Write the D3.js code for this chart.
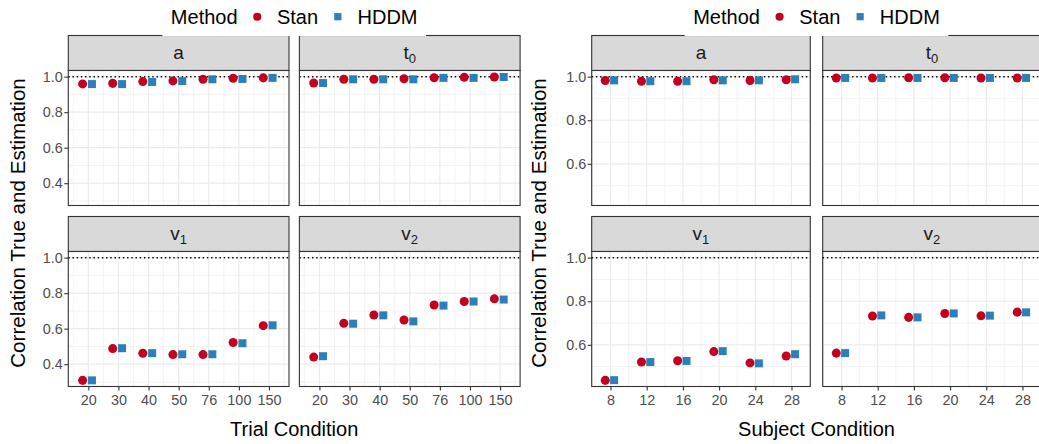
<!DOCTYPE html>
<html>
<head>
<meta charset="utf-8">
<script src="https://cdn.jsdelivr.net/npm/d3@7"></script>
<style>
  body { margin: 0; background: #fff; }
  svg { display: block; font-family: "Liberation Sans", Arial, sans-serif; }
</style>
</head>
<body>
<svg id="chart" width="1039" height="444"></svg>
<script>
// conditions on the x axes
const trialLevels = ["20", "30", "40", "50", "76", "100", "150"];
const subjectLevels = ["8", "12", "16", "20", "24", "28"];

const methods = ["Stan", "HDDM"];
const methodColors = ["#C4001F", "#2B80B9"];
const params = ["a", "t0", "v1", "v2"];
const refLine = 1.0;

// correlations by trial condition
const trialStanA  = [0.959, 0.962, 0.972, 0.976, 0.985, 0.991, 0.993];
const trialHddmA  = [0.958, 0.958, 0.970, 0.975, 0.985, 0.987, 0.993];
const trialStanT0 = [0.964, 0.985, 0.985, 0.988, 0.994, 0.996, 0.998];
const trialHddmT0 = [0.964, 0.985, 0.985, 0.985, 0.993, 0.993, 0.998];
const trialStanV1 = [0.309, 0.488, 0.462, 0.454, 0.454, 0.522, 0.617];
const trialHddmV1 = [0.309, 0.490, 0.462, 0.456, 0.456, 0.518, 0.619];
const trialStanV2 = [0.440, 0.630, 0.677, 0.649, 0.733, 0.753, 0.768];
const trialHddmV2 = [0.445, 0.628, 0.675, 0.641, 0.730, 0.753, 0.764];

// correlations by subject condition
const subjStanA  = [0.982, 0.979, 0.979, 0.986, 0.982, 0.986];
const subjHddmA  = [0.983, 0.979, 0.979, 0.983, 0.983, 0.988];
const subjStanT0 = [0.994, 0.994, 0.995, 0.995, 0.994, 0.994];
const subjHddmT0 = [0.994, 0.994, 0.994, 0.994, 0.994, 0.994];
const subjStanV1 = [0.437, 0.521, 0.527, 0.569, 0.517, 0.549];
const subjHddmV1 = [0.438, 0.521, 0.526, 0.571, 0.515, 0.557];
const subjStanV2 = [0.562, 0.732, 0.726, 0.744, 0.733, 0.750];
const subjHddmV2 = [0.562, 0.735, 0.726, 0.744, 0.734, 0.749];

const yTickValues = [0.2, 0.4, 0.6, 0.8, 1.0];

const svg = d3.select("#chart");

const stripTop = 35.5, stripH = 35, panelH = 135, rowGap = 11;
const gridColor = "#EBEBEB", lineColor = "#333333";

function symbolPath(i, size) {
  return d3.symbol().type(i === 0 ? d3.symbolCircle : d3.symbolSquare).size(size)();
}

function stripText(g, p, cx, cy) {
  const t = g.append("text")
    .attr("x", cx).attr("y", cy)
    .attr("text-anchor", "middle")
    .attr("font-size", "19px")
    .attr("fill", "#1A1A1A");
  t.append("tspan").text(p[0]);
  if (p.length > 1) {
    t.append("tspan").attr("dy", 4).attr("font-size", "13px").text(p.slice(1));
  }
}

function drawLegend(cx) {
  const lg = svg.append("g");
  const bg = lg.append("rect").attr("fill", "#fff");
  let x = 0;
  const title = lg.append("text").attr("x", x).attr("y", 24)
    .attr("font-size", "20px").attr("fill", "#000").text("Method");
  x += title.node().getComputedTextLength() + 11;
  methods.forEach((m, i) => {
    lg.append("path")
      .attr("d", symbolPath(i, 52))
      .attr("transform", `translate(${x + 8.7},16.7)`)
      .attr("fill", methodColors[i]);
    x += 17.4 + 11;
    const t = lg.append("text").attr("x", x).attr("y", 24)
      .attr("font-size", "20px").attr("fill", "#000").text(m);
    x += t.node().getComputedTextLength();
    if (i < methods.length - 1) x += 11;
  });
  bg.attr("x", -8.5).attr("y", 0).attr("width", x + 17).attr("height", 36);
  lg.attr("transform", `translate(${cx - x / 2},0)`);
}

function drawFigure(cfg) {
  const n = cfg.levels.length;
  const lo = d3.min(cfg.series.flat(2));
  const span = refLine - lo;
  const y = d3.scaleLinear()
    .domain([lo - 0.05 * span, refLine + 0.05 * span])
    .range([panelH, 0]);
  const x = d3.scalePoint()
    .domain(cfg.levels)
    .range([0, cfg.panelW])
    .padding(cfg.padding);
  const step = x.step();

  const yTicks = yTickValues.filter(v => v >= y.domain()[0] && v <= y.domain()[1]);
  const yMinor = d3.range(0.3, 1.1, 0.2).filter(v => v >= y.domain()[0] && v <= y.domain()[1]);
  const xMinor = d3.range(n + 1).map(i => x(cfg.levels[0]) + (i - 0.5) * step)
    .filter(v => v > 0 && v < cfg.panelW);

  params.forEach((p, k) => {
    const row = Math.floor(k / 2), col = k % 2;
    const px = cfg.left + col * (cfg.panelW + cfg.gap);
    const sy = stripTop + row * (stripH + panelH + rowGap);
    const py = sy + stripH;

    // strip
    const sg = svg.append("g").attr("transform", `translate(${px},${sy})`);
    sg.append("rect").attr("width", cfg.panelW).attr("height", stripH)
      .attr("fill", "#D9D9D9").attr("stroke", lineColor).attr("stroke-width", 1.1);
    stripText(sg, p, cfg.panelW / 2, stripH / 2 + 6);

    // panel
    const g = svg.append("g").attr("transform", `translate(${px},${py})`);
    g.append("rect").attr("width", cfg.panelW).attr("height", panelH).attr("fill", "#fff");

    g.selectAll(".ymin").data(yMinor).join("line")
      .attr("x1", 0).attr("x2", cfg.panelW)
      .attr("y1", d => y(d)).attr("y2", d => y(d))
      .attr("stroke", gridColor).attr("stroke-width", 0.6);
    g.selectAll(".xmin").data(xMinor).join("line")
      .attr("y1", 0).attr("y2", panelH)
      .attr("x1", d => d).attr("x2", d => d)
      .attr("stroke", gridColor).attr("stroke-width", 0.6);
    g.selectAll(".ymaj").data(yTicks).join("line")
      .attr("x1", 0).attr("x2", cfg.panelW)
      .attr("y1", d => y(d)).attr("y2", d => y(d))
      .attr("stroke", gridColor).attr("stroke-width", 1.2);
    g.selectAll(".xmaj").data(cfg.levels).join("line")
      .attr("y1", 0).attr("y2", panelH)
      .attr("x1", d => x(d)).attr("x2", d => x(d))
      .attr("stroke", gridColor).attr("stroke-width", 1.2);

    // reference line at perfect recovery
    g.append("line")
      .attr("x1", 0).attr("x2", cfg.panelW)
      .attr("y1", y(refLine)).attr("y2", y(refLine))
      .attr("stroke", "#000").attr("stroke-width", 1.5)
      .attr("stroke-dasharray", "1.4,2.8");

    methods.forEach((m, i) => {
      const vals = cfg.series[k][i];
      g.selectAll(null).data(vals).join("path")
        .attr("d", symbolPath(i, 64))
        .attr("transform", (d, j) =>
          `translate(${x(cfg.levels[j]) + cfg.dodge[i] * step},${y(d)})`)
        .attr("fill", methodColors[i]);
    });

    g.append("rect").attr("width", cfg.panelW).attr("height", panelH)
      .attr("fill", "none").attr("stroke", lineColor).attr("stroke-width", 1.1);

    if (col === 0) {
      const ya = g.append("g")
        .call(d3.axisLeft(y).tickValues(yTicks).tickFormat(d3.format(".1f"))
          .tickSize(4).tickPadding(1.5));
      ya.select(".domain").remove();
      ya.selectAll("line").attr("stroke", lineColor).attr("stroke-width", 1.1);
      ya.selectAll("text").attr("fill", "#4D4D4D")
        .style("font-size", "14.4px").style("font-family", "inherit");
    }
    if (row === 1) {
      const xa = g.append("g").attr("transform", `translate(0,${panelH})`)
        .call(d3.axisBottom(x).tickSize(4).tickPadding(4));
      xa.select(".domain").remove();
      xa.selectAll("line").attr("stroke", lineColor).attr("stroke-width", 1.1);
      xa.selectAll("text").attr("fill", "#4D4D4D")
        .style("font-size", "14.4px").style("font-family", "inherit");
    }
  });

  const areaW = 2 * cfg.panelW + cfg.gap;

  svg.append("text")
    .attr("x", cfg.left + areaW / 2).attr("y", 435.5)
    .attr("text-anchor", "middle").attr("font-size", "20px").attr("fill", "#000")
    .text(cfg.xTitle);

  svg.append("text")
    .attr("transform", `translate(${cfg.yTitleX},223) rotate(-90)`)
    .attr("text-anchor", "middle").attr("font-size", "20.6px").attr("fill", "#000")
    .text("Correlation True and Estimation");

  drawLegend(cfg.left + areaW / 2);
}

drawFigure({
  left: 68.3, panelW: 220.7, gap: 10.4, padding: 0.665,
  levels: trialLevels, dodge: [-0.19, 0.12],
  series: [
    [trialStanA, trialHddmA],
    [trialStanT0, trialHddmT0],
    [trialStanV1, trialHddmV1],
    [trialStanV2, trialHddmV2]
  ],
  xTitle: "Trial Condition", yTitleX: 25
});

drawFigure({
  left: 591.7, panelW: 218.6, gap: 12.4, padding: 0.52,
  levels: subjectLevels, dodge: [-0.145, 0.1],
  series: [
    [subjStanA, subjHddmA],
    [subjStanT0, subjHddmT0],
    [subjStanV1, subjHddmV1],
    [subjStanV2, subjHddmV2]
  ],
  xTitle: "Subject Condition", yTitleX: 546
});
</script>
</body>
</html>
